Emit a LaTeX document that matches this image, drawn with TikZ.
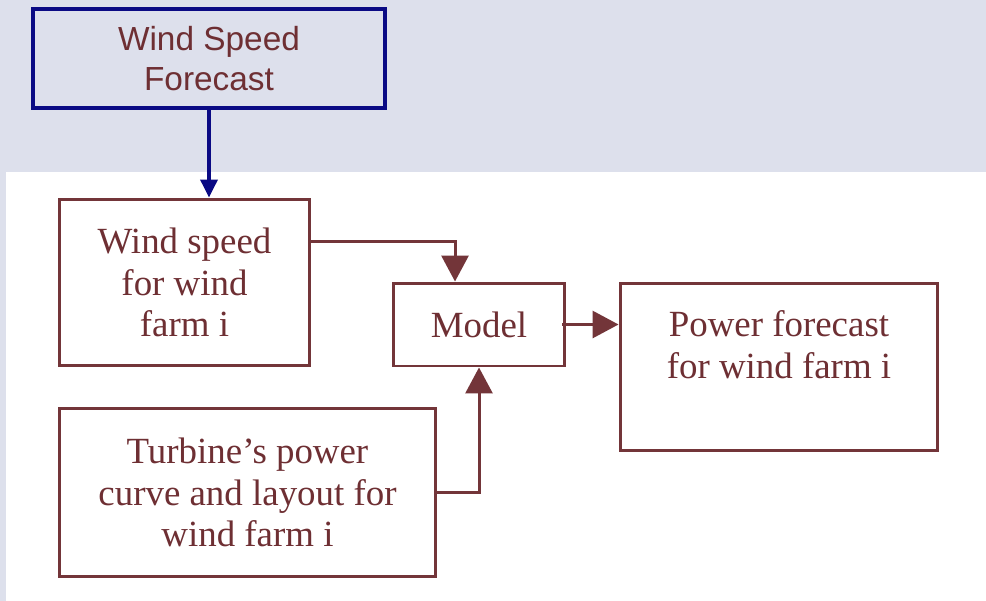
\documentclass[tikz,border=0pt]{standalone}
\usepackage{fontspec}
\setmainfont{Liberation Serif}
\setsansfont{Liberation Sans}
\usetikzlibrary{arrows.meta, positioning, calc, backgrounds}
\definecolor{bandbg}{HTML}{DDE0EC}
\definecolor{wine}{HTML}{733539}
\definecolor{winetext}{HTML}{6E2F33}
\definecolor{navy}{HTML}{0A0A84}

\begin{document}
\begin{tikzpicture}[
    x=0.02cm, y=-0.02cm,
    block/.style={
        rectangle, draw=wine, line width=1.7pt, fill=white,
        text=winetext, align=center, inner sep=0pt,
        font=\fontsize{21}{23.8}\selectfont
    },
    fcblock/.style={
        rectangle, draw=navy, line width=2pt, fill=bandbg,
        text=winetext, align=center, inner sep=0pt,
        font=\sffamily\fontsize{19}{22.7}\selectfont
    },
    arr/.style={-{Triangle[width=0.54cm, length=0.52cm]}, line width=1.7pt, wine},
    farr/.style={-{Triangle[width=0.34cm, length=0.36cm]}, line width=2pt, navy},
    lbl/.style={text=winetext, align=center, font=\fontsize{21}{23.8}\selectfont}
]
    %% --- Background ---
    \fill[bandbg] (0,0) rectangle (986,601);
    \fill[white] (6,172) rectangle (986,601);
    \useasboundingbox (0,0) rectangle (986,601);

    %% --- Forecast ---
    \node[fcblock, minimum width=7.04cm, minimum height=1.98cm] (fc) at (209,58.5) {Wind Speed\\Forecast};

    %% --- Inputs ---
    \node[block, minimum width=5.02cm, minimum height=3.34cm] (ws) at (184.5,282.5) {Wind speed\\for wind\\farm i};
    \node[block, minimum width=7.54cm, minimum height=3.38cm] (turb) at (247.5,492.5) {Turbine's power\\curve and layout for\\wind farm i};

    %% --- Model and output ---
    \node[block, minimum width=3.44cm, minimum height=1.66cm] (model) at (479,324.5) {Model};
    \node[block, minimum width=6.36cm, minimum height=3.36cm] (power) at (779,367) {};
    \node[lbl, below=0.46cm of power.north] (powertxt) {Power forecast\\for wind farm i};

    %% --- Arrows ---
    \draw[farr] (fc.south) -- (fc.south |- ws.north);
    \draw[arr] ([yshift=0.83cm]ws.east) -| ([xshift=-0.48cm]model.north);
    \draw[arr] ([xshift=-0.08cm]model.east) -- (model.east -| power.west);
    \draw[arr] (turb.east) -| (model.south);
\end{tikzpicture}
\end{document}
